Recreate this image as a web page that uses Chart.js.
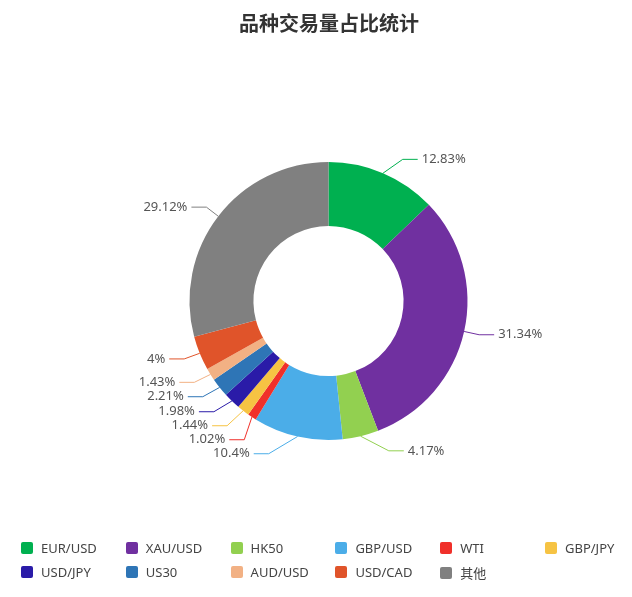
<!DOCTYPE html>
<html>
<head>
<meta charset="utf-8">
<script src="https://cdn.jsdelivr.net/npm/chart.js@4/dist/chart.umd.min.js"></script>
<style>
  body { margin: 0; background: #fff; }
  #wrap { position: relative; width: 632px; height: 597px; }
  #title {
    position: absolute; left: 0; top: 8px; width: 658px; text-align: center;
    font: bold 20px "Noto Sans CJK SC", "Noto Sans", sans-serif; color: #333;
  }
  .lg {
    position: absolute; height: 16px; line-height: 16px;
    font: 13px "Noto Sans", "Noto Sans CJK SC", sans-serif; color: #444;
    white-space: nowrap;
  }
  .lg i {
    display: inline-block; width: 12px; height: 12px; border-radius: 2px;
    vertical-align: -1px; margin-right: 8px;
  }
</style>
</head>
<body>
<div id="wrap">
  <canvas id="pie" width="632" height="597"></canvas>
  <div id="title">品种交易量占比统计</div>
  <div id="legend"></div>
</div>
<script>
// data (percent)
const categories = ["EUR/USD", "XAU/USD", "HK50", "GBP/USD", "WTI", "GBP/JPY", "USD/JPY", "US30", "AUD/USD", "USD/CAD", "其他"];
const shares = [12.83, 31.34, 4.17, 10.4, 1.02, 1.44, 1.98, 2.21, 1.43, 4, 29.12];
const colors = ["#00b050", "#7030a0", "#92d050", "#4bade8", "#f0302a", "#f6c343", "#2a1ba8", "#2e75b6", "#f2b184", "#e0542a", "#808080"];

// outside labels with leader lines (echarts-like)
const outsideLabels = {
  id: "outsideLabels",
  afterDatasetsDraw(chart) {
    const ctx = chart.ctx;
    const meta = chart.getDatasetMeta(0);
    const items = [];
    meta.data.forEach((arc, i) => {
      const p = arc.getProps(["x", "y", "startAngle", "endAngle", "outerRadius"], true);
      const mid = (p.startAngle + p.endAngle) / 2;
      const rA = p.outerRadius + 15;
      items.push({
        i, cx: p.x, cy: p.y, R: p.outerRadius, rA, mid,
        dir: Math.cos(mid) >= 0 ? 1 : -1,
        y: p.y + Math.sin(mid) * rA
      });
    });

    // push overlapping labels apart on each side
    [1, -1].forEach(dir => {
      const side = items.filter(it => it.dir === dir).sort((a, b) => a.y - b.y);
      for (let k = 1; k < side.length; k++) {
        if (side[k].y < side[k - 1].y + 14) side[k].y = side[k - 1].y + 14;
      }
      // place x on an ellipse for each half
      [true, false].forEach(top => {
        const semi = side.filter(it => (it.y < it.cy) === top);
        if (!semi.length) return;
        const maxDy = Math.max(...semi.map(it => Math.abs(it.y - it.cy)));
        semi.forEach(it => {
          const rB = Math.max(it.rA, maxDy + (top ? 20 : 13));
          const dy = Math.abs(it.y - it.cy);
          const dx = Math.sqrt(Math.max(0, 1 - dy * dy / (rB * rB))) * it.rA;
          it.x = it.cx + dx * dir;
        });
      });
    });

    ctx.save();
    ctx.font = '13px "Noto Sans", sans-serif';
    ctx.textBaseline = "middle";
    ctx.lineWidth = 1;
    items.forEach(it => {
      const x0 = it.cx + Math.cos(it.mid) * it.R;
      const y0 = it.cy + Math.sin(it.mid) * it.R;
      const x2 = it.x + 15 * it.dir;
      ctx.strokeStyle = colors[it.i];
      ctx.beginPath();
      ctx.moveTo(x0, y0);
      ctx.lineTo(it.x, it.y);
      ctx.lineTo(x2, it.y);
      ctx.stroke();
      ctx.fillStyle = "#555";
      ctx.textAlign = it.dir > 0 ? "left" : "right";
      ctx.fillText(shares[it.i] + "%", x2 + 4 * it.dir, it.y);
    });
    ctx.restore();
  }
};

new Chart(document.getElementById("pie"), {
  type: "doughnut",
  data: {
    labels: categories,
    datasets: [{
      data: shares,
      backgroundColor: colors,
      borderWidth: 0,
      hoverOffset: 0
    }]
  },
  options: {
    responsive: false,
    animation: false,
    events: [],
    cutout: "54%",
    layout: { padding: { left: 189, right: 164, top: 162, bottom: 157 } },
    plugins: {
      legend: { display: false },
      tooltip: { enabled: false }
    }
  },
  plugins: [outsideLabels]
});

// legend in fixed columns like the original
const legend = document.getElementById("legend");
categories.forEach((name, i) => {
  const el = document.createElement("div");
  el.className = "lg";
  el.style.left = (21 + (i % 6) * 104.8) + "px";
  el.style.top = (i < 6 ? 539 : 563) + "px";
  el.innerHTML = `<i style="background:${colors[i]}"></i>${name}`;
  legend.appendChild(el);
});
</script>
</body>
</html>
